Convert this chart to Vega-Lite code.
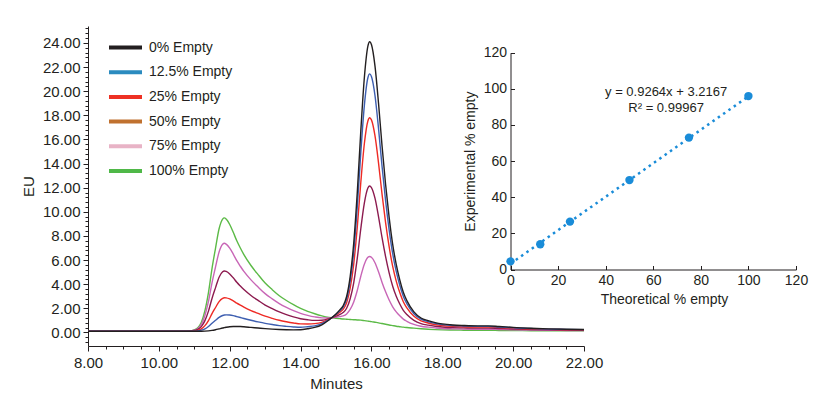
{
  "$schema": "https://vega.github.io/schema/vega-lite/v6.json",
  "width": 496,
  "height": 320,
  "autosize": "none",
  "padding": {"left": 88, "top": 26, "right": 232, "bottom": 52},
  "background": "white",
  "config": {
    "view": {"stroke": null},
    "font": "Liberation Sans",
    "axis": {
      "grid": false,
      "domainColor": "#231f20",
      "tickColor": "#231f20",
      "labelColor": "#231f20",
      "titleColor": "#231f20",
      "titleFontWeight": "normal",
      "labelFont": "Liberation Sans",
      "titleFont": "Liberation Sans"
    }
  },
  "datasets": {
    "chrom": [
      {"t": 8, "p0": 0.1, "p12": 0.1, "p25": 0.1, "p50": 0.1, "p75": 0.1, "p100": 0.1},
      {"t": 9, "p0": 0.1, "p12": 0.1, "p25": 0.1, "p50": 0.1, "p75": 0.1, "p100": 0.1},
      {"t": 10, "p0": 0.1, "p12": 0.1, "p25": 0.1, "p50": 0.1, "p75": 0.1, "p100": 0.1},
      {"t": 10.5, "p0": 0.1, "p12": 0.1, "p25": 0.1, "p50": 0.1, "p75": 0.1, "p100": 0.1},
      {"t": 10.8, "p0": 0.1, "p12": 0.1, "p25": 0.1, "p50": 0.11, "p75": 0.11, "p100": 0.11},
      {"t": 11.0, "p0": 0.1, "p12": 0.11, "p25": 0.13, "p50": 0.16, "p75": 0.19, "p100": 0.22},
      {"t": 11.1, "p0": 0.1, "p12": 0.13, "p25": 0.18, "p50": 0.26, "p75": 0.33, "p100": 0.4},
      {"t": 11.2, "p0": 0.1, "p12": 0.19, "p25": 0.3, "p50": 0.49, "p75": 0.68, "p100": 0.85},
      {"t": 11.3, "p0": 0.11, "p12": 0.3, "p25": 0.57, "p50": 0.98, "p75": 1.41, "p100": 1.8},
      {"t": 11.4, "p0": 0.13, "p12": 0.5, "p25": 0.99, "p50": 1.77, "p75": 2.57, "p100": 3.3},
      {"t": 11.5, "p0": 0.17, "p12": 0.76, "p25": 1.57, "p50": 2.82, "p75": 4.11, "p100": 5.3},
      {"t": 11.6, "p0": 0.23, "p12": 1.01, "p25": 2.07, "p50": 3.72, "p75": 5.43, "p100": 7.0},
      {"t": 11.7, "p0": 0.3, "p12": 1.25, "p25": 2.56, "p50": 4.58, "p75": 6.67, "p100": 8.6},
      {"t": 11.8, "p0": 0.37, "p12": 1.41, "p25": 2.83, "p50": 5.03, "p75": 7.31, "p100": 9.4},
      {"t": 11.85, "p0": 0.4, "p12": 1.45, "p25": 2.88, "p50": 5.1, "p75": 7.39, "p100": 9.5},
      {"t": 11.9, "p0": 0.43, "p12": 1.46, "p25": 2.87, "p50": 5.06, "p75": 7.32, "p100": 9.4},
      {"t": 12.0, "p0": 0.48, "p12": 1.45, "p25": 2.78, "p50": 4.85, "p75": 6.99, "p100": 8.95},
      {"t": 12.1, "p0": 0.5, "p12": 1.4, "p25": 2.62, "p50": 4.53, "p75": 6.49, "p100": 8.3},
      {"t": 12.2, "p0": 0.5, "p12": 1.32, "p25": 2.43, "p50": 4.16, "p75": 5.95, "p100": 7.6},
      {"t": 12.3, "p0": 0.49, "p12": 1.24, "p25": 2.26, "p50": 3.85, "p75": 5.49, "p100": 7.0},
      {"t": 12.4, "p0": 0.47, "p12": 1.16, "p25": 2.1, "p50": 3.56, "p75": 5.06, "p100": 6.45},
      {"t": 12.6, "p0": 0.42, "p12": 1.01, "p25": 1.82, "p50": 3.07, "p75": 4.36, "p100": 5.55},
      {"t": 12.8, "p0": 0.37, "p12": 0.88, "p25": 1.58, "p50": 2.66, "p75": 3.77, "p100": 4.8},
      {"t": 13.0, "p0": 0.32, "p12": 0.76, "p25": 1.35, "p50": 2.27, "p75": 3.22, "p100": 4.1},
      {"t": 13.2, "p0": 0.28, "p12": 0.66, "p25": 1.17, "p50": 1.97, "p75": 2.79, "p100": 3.55},
      {"t": 13.4, "p0": 0.25, "p12": 0.57, "p25": 1.01, "p50": 1.7, "p75": 2.4, "p100": 3.05},
      {"t": 13.6, "p0": 0.23, "p12": 0.51, "p25": 0.89, "p50": 1.48, "p75": 2.09, "p100": 2.65},
      {"t": 13.8, "p0": 0.22, "p12": 0.46, "p25": 0.79, "p50": 1.29, "p75": 1.82, "p100": 2.3},
      {"t": 14.0, "p0": 0.23, "p12": 0.43, "p25": 0.71, "p50": 1.14, "p75": 1.59, "p100": 2.0},
      {"t": 14.2, "p0": 0.31, "p12": 0.48, "p25": 0.7, "p50": 1.05, "p75": 1.42, "p100": 1.75},
      {"t": 14.4, "p0": 0.42, "p12": 0.55, "p25": 0.73, "p50": 1.0, "p75": 1.29, "p100": 1.55},
      {"t": 14.6, "p0": 0.64, "p12": 0.73, "p25": 0.84, "p50": 1.02, "p75": 1.21, "p100": 1.38},
      {"t": 14.8, "p0": 1.04, "p12": 1.06, "p25": 1.1, "p50": 1.15, "p75": 1.2, "p100": 1.25},
      {"t": 15.0, "p0": 1.53, "p12": 1.49, "p25": 1.44, "p50": 1.35, "p75": 1.26, "p100": 1.18},
      {"t": 15.1, "p0": 1.85, "p12": 1.77, "p25": 1.66, "p50": 1.49, "p75": 1.31, "p100": 1.15},
      {"t": 15.2, "p0": 2.21, "p12": 2.09, "p25": 1.91, "p50": 1.65, "p75": 1.37, "p100": 1.12},
      {"t": 15.3, "p0": 2.98, "p12": 2.76, "p25": 2.47, "p50": 2.01, "p75": 1.54, "p100": 1.1},
      {"t": 15.4, "p0": 4.64, "p12": 4.23, "p25": 3.67, "p50": 2.8, "p75": 1.91, "p100": 1.08},
      {"t": 15.5, "p0": 7.39, "p12": 6.66, "p25": 5.67, "p50": 4.12, "p75": 2.53, "p100": 1.06},
      {"t": 15.6, "p0": 11.57, "p12": 10.36, "p25": 8.71, "p50": 6.14, "p75": 3.48, "p100": 1.04},
      {"t": 15.7, "p0": 16.69, "p12": 14.89, "p25": 12.43, "p50": 8.6, "p75": 4.66, "p100": 1.02},
      {"t": 15.8, "p0": 21.11, "p12": 18.8, "p25": 15.64, "p50": 10.72, "p75": 5.65, "p100": 0.98},
      {"t": 15.9, "p0": 23.73, "p12": 21.11, "p25": 17.53, "p50": 11.97, "p75": 6.23, "p100": 0.94},
      {"t": 15.95, "p0": 24.1, "p12": 21.43, "p25": 17.8, "p50": 12.14, "p75": 6.3, "p100": 0.92},
      {"t": 16.0, "p0": 23.86, "p12": 21.22, "p25": 17.62, "p50": 12.01, "p75": 6.23, "p100": 0.9},
      {"t": 16.1, "p0": 22.09, "p12": 19.65, "p25": 16.31, "p50": 11.13, "p75": 5.78, "p100": 0.85},
      {"t": 16.2, "p0": 19.01, "p12": 16.92, "p25": 14.06, "p50": 9.61, "p75": 5.03, "p100": 0.8},
      {"t": 16.3, "p0": 15.45, "p12": 13.76, "p25": 11.45, "p50": 7.86, "p75": 4.15, "p100": 0.74},
      {"t": 16.4, "p0": 12.26, "p12": 10.93, "p25": 9.11, "p50": 6.29, "p75": 3.37, "p100": 0.68},
      {"t": 16.5, "p0": 9.54, "p12": 8.51, "p25": 7.11, "p50": 4.94, "p75": 2.69, "p100": 0.62},
      {"t": 16.6, "p0": 7.3, "p12": 6.53, "p25": 5.47, "p50": 3.83, "p75": 2.13, "p100": 0.57},
      {"t": 16.7, "p0": 5.65, "p12": 5.06, "p25": 4.26, "p50": 3.0, "p75": 1.71, "p100": 0.52},
      {"t": 16.8, "p0": 4.36, "p12": 3.91, "p25": 3.31, "p50": 2.36, "p75": 1.38, "p100": 0.48},
      {"t": 16.9, "p0": 3.34, "p12": 3.01, "p25": 2.55, "p50": 1.84, "p75": 1.11, "p100": 0.44},
      {"t": 17.0, "p0": 2.64, "p12": 2.38, "p25": 2.03, "p50": 1.49, "p75": 0.93, "p100": 0.41},
      {"t": 17.2, "p0": 1.71, "p12": 1.56, "p25": 1.34, "p50": 1.01, "p75": 0.67, "p100": 0.36},
      {"t": 17.4, "p0": 1.2, "p12": 1.1, "p25": 0.96, "p50": 0.74, "p75": 0.52, "p100": 0.31},
      {"t": 17.6, "p0": 0.98, "p12": 0.9, "p25": 0.79, "p50": 0.61, "p75": 0.44, "p100": 0.27},
      {"t": 17.8, "p0": 0.82, "p12": 0.75, "p25": 0.66, "p50": 0.52, "p75": 0.38, "p100": 0.24},
      {"t": 18.0, "p0": 0.71, "p12": 0.65, "p25": 0.58, "p50": 0.46, "p75": 0.33, "p100": 0.22},
      {"t": 18.3, "p0": 0.62, "p12": 0.57, "p25": 0.51, "p50": 0.4, "p75": 0.3, "p100": 0.2},
      {"t": 18.6, "p0": 0.58, "p12": 0.54, "p25": 0.47, "p50": 0.38, "p75": 0.28, "p100": 0.19},
      {"t": 19.0, "p0": 0.55, "p12": 0.51, "p25": 0.45, "p50": 0.36, "p75": 0.27, "p100": 0.18},
      {"t": 19.3, "p0": 0.55, "p12": 0.51, "p25": 0.45, "p50": 0.36, "p75": 0.27, "p100": 0.18},
      {"t": 19.6, "p0": 0.5, "p12": 0.46, "p25": 0.41, "p50": 0.33, "p75": 0.25, "p100": 0.17},
      {"t": 20.0, "p0": 0.42, "p12": 0.39, "p25": 0.35, "p50": 0.29, "p75": 0.22, "p100": 0.16},
      {"t": 20.5, "p0": 0.35, "p12": 0.33, "p25": 0.3, "p50": 0.25, "p75": 0.2, "p100": 0.15},
      {"t": 21.0, "p0": 0.3, "p12": 0.28, "p25": 0.26, "p50": 0.22, "p75": 0.18, "p100": 0.14},
      {"t": 21.5, "p0": 0.27, "p12": 0.26, "p25": 0.24, "p50": 0.2, "p75": 0.17, "p100": 0.14},
      {"t": 22.0, "p0": 0.25, "p12": 0.24, "p25": 0.22, "p50": 0.19, "p75": 0.16, "p100": 0.13}
    ],
    "points": [
      {"theo": 0, "exp": 4.5},
      {"theo": 12.5, "exp": 14.0},
      {"theo": 25, "exp": 26.5},
      {"theo": 50, "exp": 49.5},
      {"theo": 75, "exp": 73.0},
      {"theo": 100, "exp": 96.0}
    ],
    "fit": [
      {"theo": 0, "exp": 3.2167},
      {"theo": 100, "exp": 95.8567}
    ],
    "note": [
      {"eq": "y = 0.9264x + 3.2167", "r2": "R² = 0.99967"}
    ]
  },
  "layer": [
    {
      "layer": [
        {
          "data": {"name": "chrom"},
          "transform": [{"fold": ["p100", "p75", "p50", "p25", "p12", "p0"], "as": ["series", "eu"]}],
          "mark": {"type": "line", "strokeWidth": 1.4, "interpolate": "monotone"},
          "encoding": {
            "x": {
              "field": "t", "type": "quantitative",
              "scale": {"domain": [8, 22], "nice": false, "zero": false},
              "axis": {
                "title": "Minutes",
                "values": [8, 8.5, 9, 9.5, 10, 10.5, 11, 11.5, 12, 12.5, 13, 13.5, 14, 14.5, 15, 15.5, 16, 16.5, 17, 17.5, 18, 18.5, 19, 19.5, 20, 20.5, 21, 21.5, 22],
                "labelExpr": "abs(datum.value % 2) < 0.001 ? format(datum.value, '.2f') : ''",
                "tickSize": {"condition": {"test": "abs(datum.value % 2) < 0.001", "value": 5}, "value": 3},
                "labelOverlap": false,
                "labelFlush": false,
                "labelFontSize": 15,
                "labelPadding": 4,
                "titleFontSize": 15,
                "titlePadding": 6
              }
            },
            "y": {
              "field": "eu", "type": "quantitative",
              "scale": {"domain": [-1.12, 25.4], "nice": false, "zero": false},
              "axis": {
                "title": "EU",
                "values": [-0.8, -0.4, 0, 0.4, 0.8, 1.2, 1.6, 2, 2.4, 2.8, 3.2, 3.6, 4, 4.4, 4.8, 5.2, 5.6, 6, 6.4, 6.8, 7.2, 7.6, 8, 8.4, 8.8, 9.2, 9.6, 10, 10.4, 10.8, 11.2, 11.6, 12, 12.4, 12.8, 13.2, 13.6, 14, 14.4, 14.8, 15.2, 15.6, 16, 16.4, 16.8, 17.2, 17.6, 18, 18.4, 18.8, 19.2, 19.6, 20, 20.4, 20.8, 21.2, 21.6, 22, 22.4, 22.8, 23.2, 23.6, 24, 24.4, 24.8, 25.2],
                "labelExpr": "abs(datum.value % 2) < 0.001 ? format(datum.value, '.2f') : ''",
                "tickSize": {"condition": {"test": "abs(datum.value % 2) < 0.001", "value": 5}, "value": 3},
                "labelOverlap": false,
                "labelFontSize": 15,
                "labelPadding": 3,
                "titleFontSize": 15,
                "titlePadding": 6
              }
            },
            "color": {
              "field": "series", "type": "nominal",
              "scale": {
                "domain": ["p0", "p12", "p25", "p50", "p75", "p100"],
                "range": ["#231f20", "#3d5eb0", "#ee2a24", "#8c1b4f", "#c866b6", "#5cba47"]
              },
              "legend": null
            }
          }
        },
        {
          "data": {"values": []},
          "mark": {"type": "line", "strokeWidth": 4},
          "encoding": {
            "color": {
              "field": "series", "type": "nominal",
              "scale": {
                "domain": ["0% Empty", "12.5% Empty", "25% Empty", "50% Empty", "75% Empty", "100% Empty"],
                "range": ["#231f20", "#2b8bbf", "#ee3124", "#c0712f", "#e8b3c6", "#4fb848"]
              },
              "legend": {
                "title": null,
                "orient": "none",
                "legendX": 19,
                "legendY": 11.5,
                "symbolType": "stroke",
                "symbolSize": 1089,
                "symbolStrokeWidth": 4,
                "clipHeight": 20,
                "labelFontSize": 14,
                "labelFont": "Liberation Sans",
                "labelColor": "#231f20",
                "labelOffset": 5,
                "rowPadding": 4.7,
                "padding": 0
              }
            }
          }
        }
      ],
      "resolve": {"scale": {"color": "independent"}}
    },
    {
      "layer": [
        {
          "data": {"name": "fit"},
          "mark": {"type": "line", "strokeDash": [2.5, 4], "strokeWidth": 2.5, "color": "#1a8cd8"},
          "encoding": {
            "x": {
              "field": "theo", "type": "quantitative",
              "scale": {"domain": [0, 120], "range": [422.5, 708], "nice": false},
              "axis": {
                "orient": "bottom",
                "offset": -76.5,
                "title": "Theoretical % empty",
                "titleX": 576,
                "values": [0, 20, 40, 60, 80, 100, 120],
                "tickSize": -4,
                "labelPadding": 8,
                "labelFontSize": 14,
                "labelOverlap": false,
                "labelFlush": false,
                "titleFontSize": 14,
                "titlePadding": 5
              }
            },
            "y": {
              "field": "exp", "type": "quantitative",
              "scale": {"domain": [0, 120], "range": [243.5, 26.7], "nice": false},
              "axis": {
                "orient": "left",
                "offset": -422.5,
                "title": "Experimental % empty",
                "values": [0, 20, 40, 60, 80, 100, 120],
                "tickSize": -4,
                "labelPadding": 8,
                "labelFontSize": 14,
                "labelOverlap": false,
                "titleFontSize": 14,
                "titlePadding": 6
              }
            }
          }
        },
        {
          "data": {"name": "points"},
          "mark": {"type": "circle", "size": 70, "opacity": 1, "color": "#1a8cd8"},
          "encoding": {
            "x": {"field": "theo", "type": "quantitative"},
            "y": {"field": "exp", "type": "quantitative"}
          }
        },
        {
          "data": {"name": "note"},
          "mark": {"type": "text", "fontSize": 13, "align": "center", "baseline": "middle", "color": "#231f20", "font": "Liberation Sans"},
          "encoding": {
            "x": {"datum": 65.4, "type": "quantitative"},
            "y": {"datum": 98.1, "type": "quantitative"},
            "text": {"field": "eq"}
          }
        },
        {
          "data": {"name": "note"},
          "mark": {"type": "text", "fontSize": 13, "align": "center", "baseline": "middle", "color": "#231f20", "font": "Liberation Sans"},
          "encoding": {
            "x": {"datum": 65.4, "type": "quantitative"},
            "y": {"datum": 89.3, "type": "quantitative"},
            "text": {"field": "r2"}
          }
        }
      ]
    }
  ],
  "resolve": {"scale": {"x": "independent", "y": "independent"}}
}
